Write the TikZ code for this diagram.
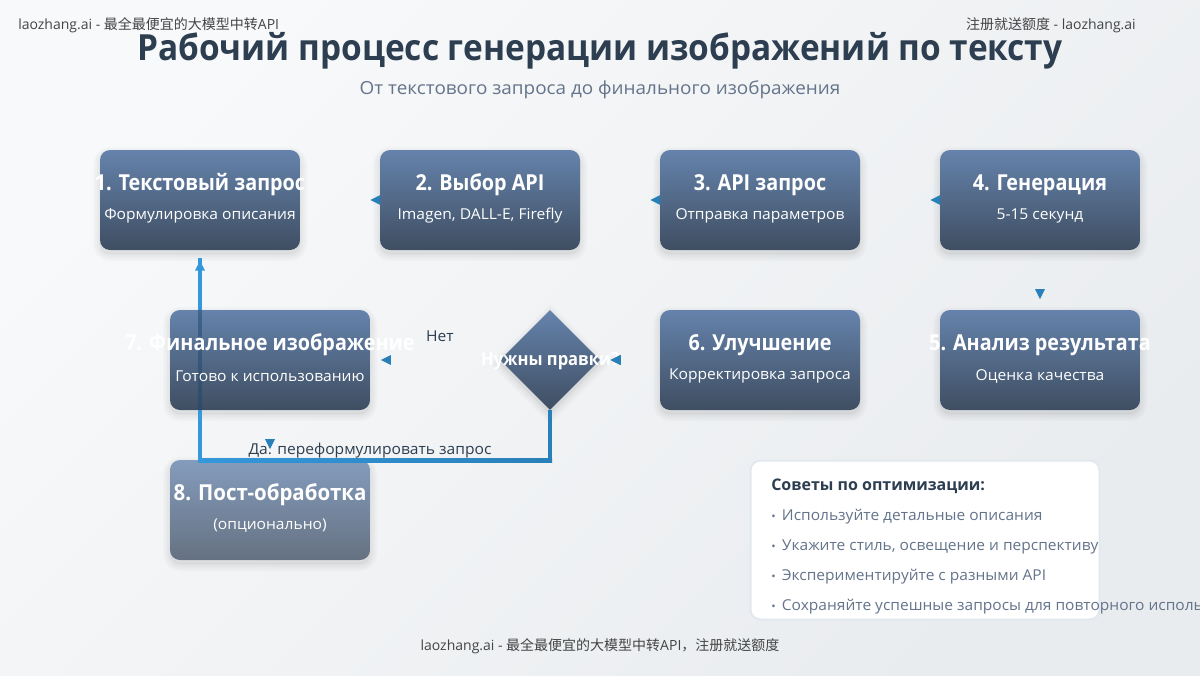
\documentclass[tikz,border=0pt]{standalone}
\usepackage{fontspec}
\setmainfont{Open Sans}
\newfontfamily\cjkfont{Noto Sans CJK SC}
\usetikzlibrary{calc,shapes.geometric}
\definecolor{bgfrom}{HTML}{F8F9FA}
\definecolor{bgto}{HTML}{E9ECEF}
\definecolor{boxtop}{HTML}{6583AC}
\definecolor{boxbot}{HTML}{3F4E62}
\definecolor{inktitle}{HTML}{2C3E50}
\definecolor{inkgrey}{HTML}{64748B}
\definecolor{inkwm}{HTML}{444444}
\definecolor{flowleft}{HTML}{3498DB}
\definecolor{flowright}{HTML}{2980B9}
\definecolor{flowdark}{HTML}{1E466E}
\definecolor{tipborder}{HTML}{E2E8F0}
\newcommand{\tipdot}{\makebox[8pt][l]{\fontsize{8.5pt}{8.5pt}\selectfont •}}
\tikzset{
	softshadow/.style={
		preaction={draw=black, fill=black, draw opacity=0.018, fill opacity=0.03, line width=10.5pt, transform canvas={yshift=-3pt}},
		preaction={draw=black, draw opacity=0.018, line width=7.5pt, transform canvas={yshift=-3pt}},
		preaction={draw=black, draw opacity=0.018, line width=4.5pt, transform canvas={yshift=-3pt}},
		preaction={draw=black, draw opacity=0.018, line width=1.5pt, transform canvas={yshift=-3pt}}},
	stepbox/.style={rectangle, rounded corners=7.5pt, minimum width=150pt, minimum height=75pt, inner sep=0pt,
		top color=boxtop, bottom color=boxbot, softshadow},
	optbox/.style={stepbox, top color=boxtop!80!white, bottom color=boxbot!80!white},
	askbox/.style={diamond, aspect=1, minimum width=75pt, minimum height=75pt, inner sep=0pt,
		top color=boxtop, bottom color=boxbot, softshadow},
	headtxt/.style={text=white, font=\fontsize{16.5pt}{18pt}\selectfont\bfseries\addfontfeatures{FakeStretch=0.9}},
	subtxt/.style={text=white, font=\fontsize{11.25pt}{13pt}\selectfont\addfontfeatures{FakeStretch=1.04}},
	tipmark/.style={isosceles triangle, isosceles triangle stretches, minimum height=7.5pt, minimum width=7.5pt,
		fill=flowright, inner sep=0pt, anchor=apex},
	wmtxt/.style={text=inkwm, inner sep=0pt, font=\fontsize{10.5pt}{12pt}\selectfont},
	notetxt/.style={text=inkgrey, anchor=west, inner sep=0pt, font=\fontsize{11.25pt}{13pt}\selectfont\addfontfeatures{FakeStretch=1.035}},
	flowtxt/.style={text=inktitle, font=\fontsize{11.25pt}{13pt}\selectfont\addfontfeatures{FakeStretch=1.04}},
	flowline/.style={line width=3pt},
}
\begin{document}
\begin{tikzpicture}[x=0.75pt, y=-0.75pt]
	\useasboundingbox (0, 0) rectangle (1200, 675);
	\shade[top color=bgfrom, bottom color=bgto, shading angle=45] (0, 0) rectangle (1200, 675);

	% watermarks and headline
	\node[wmtxt, anchor=west] (wmleft) at (18, 25) {laozhang.ai - {\cjkfont 最全最便宜的大模型中转}API};
	\node[wmtxt, anchor=east] (wmright) at (1136, 25) {{\cjkfont 注册就送额度} - laozhang.ai};
	\node[text=inktitle, font=\fontsize{27pt}{30pt}\selectfont\bfseries\addfontfeatures{FakeStretch=0.928}] (headline) at (600, 51) {Рабочий процесс генерации изображений по тексту};
	\node[text=inkgrey, font=\fontsize{13.5pt}{16pt}\selectfont\addfontfeatures{FakeStretch=1.05}] (subline) at (600, 90) {От текстового запроса до финального изображения};
	\node[wmtxt] (wmfoot) at (600, 646) {laozhang.ai - {\cjkfont 最全最便宜的大模型中转}API{\cjkfont ，注册就送额度}};

	% steps
	\node[stepbox] (query) at (200, 200) {};
	\node[stepbox] (choice) at (480, 200) {};
	\node[stepbox] (request) at (760, 200) {};
	\node[stepbox] (render) at (1040, 200) {};
	\node[stepbox] (review) at (1040, 360) {};
	\node[stepbox] (refine) at (760, 360) {};
	\node[askbox] (ask) at (550, 360) {};
	\node[stepbox] (final) at (270, 360) {};
	\node[optbox] (post) at (270, 510) {};

	% feedback line, it shows dark inside the final box
	\coordinate (backright) at (550, 460);
	\coordinate (backleft) at (200, 460);
	\coordinate (backend) at (200, 258);
	\draw[flowline, flowright] (ask.south) -- ($(backright)+(0, 2)$);
	\shade[left color=flowleft, right color=flowright] ($(backleft)+(-2, -2)$) rectangle ($(backright)+(2, 2)$);
	\draw[flowline, flowleft] (backleft) -- (backleft |- final.south);
	\draw[flowline, flowdark, draw opacity=0.5] (backleft |- final.south) -- (backleft |- final.north);
	\draw[flowline, flowleft] (backleft |- final.north) -- (backend);

	\node[headtxt] at (200, 185) {1. Текстовый запрос};
	\node[subtxt] at (200, 216) {Формулировка описания};
	\node[headtxt] at (480, 185) {2. Выбор API};
	\node[subtxt] at (480, 216) {Imagen, DALL-E, Firefly};
	\node[headtxt] at (760, 185) {3. API запрос};
	\node[subtxt] at (760, 216) {Отправка параметров};
	\node[headtxt] at (1040, 185) {4. Генерация};
	\node[subtxt] at (1040, 216) {5-15 секунд};
	\node[headtxt] at (1040, 345) {5. Анализ результата};
	\node[subtxt] at (1040, 376) {Оценка качества};
	\node[headtxt] at (760, 345) {6. Улучшение};
	\node[subtxt] at (760, 376) {Корректировка запроса};
	\node[headtxt, font=\fontsize{13.5pt}{16pt}\selectfont\bfseries\addfontfeatures{FakeStretch=0.92}] at (550, 361) {Нужны правки?};
	\node[headtxt] at (270, 345) {7. Финальное изображение};
	\node[subtxt] at (270, 376) {Готово к использованию};
	\node[headtxt, font=\fontsize{16.5pt}{18pt}\selectfont\bfseries\addfontfeatures{FakeStretch=0.93}] at (270, 495) {8. Пост-обработка};
	\node[subtxt] at (270, 526) {(опционально)};

	\node[flowtxt] (nolabel) at (440, 336) {Нет};
	\node[flowtxt] (yeslabel) at (370, 451) {Да: переформулировать запрос};

	% arrow heads, the lines behind them do not show
	\node[tipmark, shape border rotate=180] (tipa) at ($(choice.west)+(-10, 0)$) {};
	\node[tipmark, shape border rotate=180] (tipb) at ($(request.west)+(-10, 0)$) {};
	\node[tipmark, shape border rotate=180] (tipc) at ($(render.west)+(-10, 0)$) {};
	\node[tipmark, shape border rotate=270] (tipd) at ($(review.north)+(0, -10)$) {};
	\node[tipmark, shape border rotate=180] (tipe) at ($(refine.west)+(-50, 0)$) {};
	\node[tipmark, shape border rotate=180] (tipf) at ($(ask.east)+(10, 0)$) {};
	\node[tipmark, shape border rotate=180] (tipg) at ($(final.east)+(10, 0)$) {};
	\node[tipmark, shape border rotate=270] (tiph) at ($(post.north)+(0, -10)$) {};
	\node[tipmark, fill=flowleft, shape border rotate=90] (tipi) at (200, 260) {};

	% tips panel
	\node[rectangle, rounded corners=7.5pt, draw=tipborder, fill=white, line width=1.5pt, minimum width=261.75pt, minimum height=119.25pt, inner sep=0pt] (notes) at (925, 540) {};
	\node[text=inktitle, anchor=west, inner sep=0pt, font=\fontsize{12pt}{14pt}\selectfont\bfseries] (notehead) at (771, 486) {Советы по оптимизации:};
	\node[notetxt] (notea) at (771, 517) {\tipdot Используйте детальные описания};
	\node[notetxt] (noteb) at (771, 547) {\tipdot Укажите стиль, освещение и перспективу};
	\node[notetxt] (notec) at (771, 577) {\tipdot Экспериментируйте с разными API};
	\node[notetxt] (noted) at (771, 607) {\tipdot Сохраняйте успешные запросы для повторного использования};
\end{tikzpicture}
\end{document}
